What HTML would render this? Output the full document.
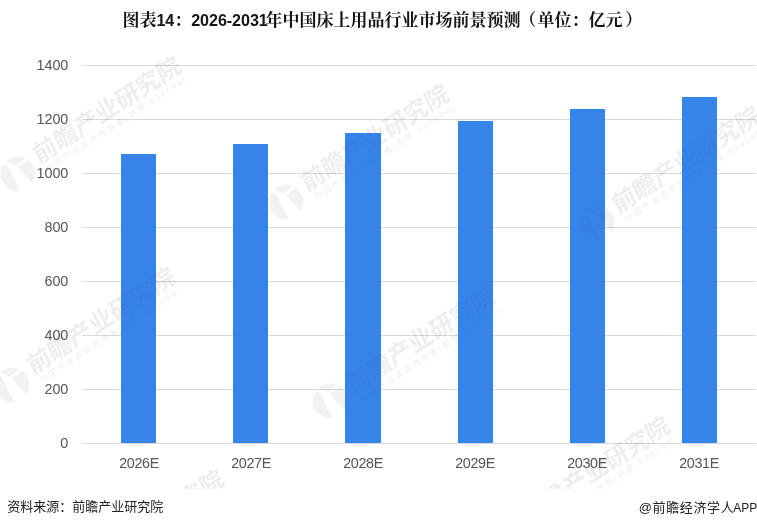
<!DOCTYPE html>
<html lang="zh-CN">
<head>
<meta charset="utf-8">
<title>图表14：2026-2031年中国床上用品行业市场前景预测（单位：亿元）</title>
<style>
html,body{margin:0;padding:0;background:#fff;}
body{width:757px;height:528px;position:relative;overflow:hidden;font-family:"Liberation Sans","Noto Sans CJK SC",sans-serif;}
.chart{position:absolute;left:0;top:0;width:757px;height:488.5px;overflow:hidden;background:#fff;}
.title{position:absolute;left:122.4px;top:8.3px;font-size:17px;line-height:24px;font-weight:700;color:#141414;white-space:nowrap;font-family:"Liberation Sans","Noto Serif CJK SC",serif;}
.title .n{font-size:16.1px;letter-spacing:-0.05px;font-weight:700;}
.title .n2{margin-right:-2.2px;}
.title .p1{position:relative;left:-1.3px;}
.title .p2{position:relative;left:2.8px;}
.grid{position:absolute;left:82px;width:674px;height:1px;background:#dadada;}
.yl{position:absolute;left:0;width:68.3px;text-align:right;font-size:14.4px;letter-spacing:-0.05px;line-height:16px;color:#555;}
.xl{position:absolute;width:112px;text-align:center;top:455.3px;font-size:14.4px;letter-spacing:-0.38px;line-height:16px;color:#555;}
.bar{position:absolute;width:35px;background:#3684e7;}
.wm{position:absolute;width:0;height:0;transform:rotate(-33deg);white-space:nowrap;}
.wa{color:rgba(40,40,80,0.046);fill:rgba(40,40,80,0.036);}
.wb{color:rgba(40,40,80,0.03);fill:rgba(40,40,80,0.025);}
.wm .logo{position:absolute;left:-20px;top:-20px;width:40px;height:40px;transform:rotate(33deg);}
.wm .t1{position:absolute;left:22px;top:-18.8px;font-size:24px;line-height:28px;font-weight:700;letter-spacing:0;transform-origin:0 100%;transform:scaleX(1.022) skewX(-6deg);}
.wm .t2{position:absolute;left:26px;top:6.7px;font-size:8.5px;line-height:10px;letter-spacing:1.9px;}
.foot{position:absolute;left:0;top:488.5px;width:757px;height:39.5px;background:#fff;font-size:13px;line-height:18px;color:#222;}
.foot .l{position:absolute;left:7.2px;top:9.8px;white-space:nowrap;}
.foot .r{position:absolute;left:638.8px;top:10px;white-space:nowrap;letter-spacing:0.62px;}
.foot .r span{letter-spacing:0;font-size:12px;margin-left:-1px;}
</style>
</head>
<body>
<svg width="0" height="0" style="position:absolute"><defs><mask id="lm" maskUnits="userSpaceOnUse" x="-20" y="-20" width="40" height="40"><circle cx="0" cy="0" r="17.2" fill="#fff"/><path d="M-20,-16 L-2.2,-8.6 L10,-17.5 L11.5,-15.5 L0.2,-6.6 L17,12.5 L4,20 L-10.2,-8 L-20,-12.6 Z" fill="#000"/></mask></defs></svg>
<div class="chart">
<div class="title">图表<span class="n">14</span>：<span class="n n2">2026-2031</span>年中国床上用品行业市场前景预测<span class="p1">（</span>单位：亿元<span class="p2">）</span></div>
<div class="grid" style="top:65px"></div><div class="yl" style="top:57px">1400</div>
<div class="grid" style="top:119px"></div><div class="yl" style="top:111px">1200</div>
<div class="grid" style="top:173px"></div><div class="yl" style="top:165px">1000</div>
<div class="grid" style="top:227px"></div><div class="yl" style="top:219px">800</div>
<div class="grid" style="top:281px"></div><div class="yl" style="top:273px">600</div>
<div class="grid" style="top:335px"></div><div class="yl" style="top:327px">400</div>
<div class="grid" style="top:389px"></div><div class="yl" style="top:381px">200</div>
<div class="grid" style="top:443px"></div><div class="yl" style="top:435px">0</div>
<div class="wm wa" style="left:18px;top:174px"><svg class="logo" style="margin:0.00px 0 0 0.00px" viewBox="-20 -20 40 40"><rect x="-20" y="-20" width="40" height="40" mask="url(#lm)"/></svg><span class="t1">前瞻产业研究院</span><span class="t2">中国产业咨询领导者(股票:839599)</span></div>
<div class="wm wa" style="left:285.5px;top:202.3px"><svg class="logo" style="margin:0.00px 0 0 0.00px" viewBox="-20 -20 40 40"><rect x="-20" y="-20" width="40" height="40" mask="url(#lm)"/></svg><span class="t1">前瞻产业研究院</span><span class="t2">中国产业咨询领导者(股票:839599)</span></div>
<div class="wm wa" style="left:597.3px;top:224.3px"><svg class="logo" style="margin:-0.81px 0 0 0.77px" viewBox="-20 -20 40 40"><rect x="-20" y="-20" width="40" height="40" mask="url(#lm)"/></svg><span class="t1">前瞻产业研究院</span><span class="t2">中国产业咨询领导者(股票:839599)</span></div>
<div class="wm wa" style="left:11.5px;top:385px"><svg class="logo" style="margin:0.00px 0 0 0.00px" viewBox="-20 -20 40 40"><rect x="-20" y="-20" width="40" height="40" mask="url(#lm)"/></svg><span class="t1">前瞻产业研究院</span><span class="t2">中国产业咨询领导者(股票:839599)</span></div>
<div class="wm wa" style="left:331.5px;top:403.5px"><svg class="logo" style="margin:-3.61px 0 0 0.32px" viewBox="-20 -20 40 40"><rect x="-20" y="-20" width="40" height="40" mask="url(#lm)"/></svg><span class="t1">前瞻产业研究院</span><span class="t2">中国产业咨询领导者(股票:839599)</span></div>
<div class="wm wa" style="left:506.8px;top:534.3px"><svg class="logo" style="margin:0.00px 0 0 0.00px" viewBox="-20 -20 40 40"><rect x="-20" y="-20" width="40" height="40" mask="url(#lm)"/></svg><span class="t1">前瞻产业研究院</span><span class="t2">中国产业咨询领导者(股票:839599)</span></div>
<div class="wm wa" style="left:60.5px;top:587px"><svg class="logo" style="margin:0.00px 0 0 0.00px" viewBox="-20 -20 40 40"><rect x="-20" y="-20" width="40" height="40" mask="url(#lm)"/></svg><span class="t1">前瞻产业研究院</span><span class="t2">中国产业咨询领导者(股票:839599)</span></div>
<div class="bar" style="left:121px;top:154px;width:35px;height:289px"></div><div class="xl" style="left:83px">2026E</div>
<div class="bar" style="left:233px;top:144px;width:35px;height:299px"></div><div class="xl" style="left:195px">2027E</div>
<div class="bar" style="left:345px;top:133px;width:36px;height:310px"></div><div class="xl" style="left:307px">2028E</div>
<div class="bar" style="left:458px;top:121px;width:35px;height:322px"></div><div class="xl" style="left:419px">2029E</div>
<div class="bar" style="left:570px;top:109px;width:35px;height:334px"></div><div class="xl" style="left:531px">2030E</div>
<div class="bar" style="left:682px;top:97px;width:35px;height:346px"></div><div class="xl" style="left:643px">2031E</div>
<div class="wm wb" style="left:18px;top:174px"><svg class="logo" style="margin:0.00px 0 0 0.00px" viewBox="-20 -20 40 40"><rect x="-20" y="-20" width="40" height="40" mask="url(#lm)"/></svg><span class="t1">前瞻产业研究院</span><span class="t2">中国产业咨询领导者(股票:839599)</span></div>
<div class="wm wb" style="left:285.5px;top:202.3px"><svg class="logo" style="margin:0.00px 0 0 0.00px" viewBox="-20 -20 40 40"><rect x="-20" y="-20" width="40" height="40" mask="url(#lm)"/></svg><span class="t1">前瞻产业研究院</span><span class="t2">中国产业咨询领导者(股票:839599)</span></div>
<div class="wm wb" style="left:597.3px;top:224.3px"><svg class="logo" style="margin:-0.81px 0 0 0.77px" viewBox="-20 -20 40 40"><rect x="-20" y="-20" width="40" height="40" mask="url(#lm)"/></svg><span class="t1">前瞻产业研究院</span><span class="t2">中国产业咨询领导者(股票:839599)</span></div>
<div class="wm wb" style="left:11.5px;top:385px"><svg class="logo" style="margin:0.00px 0 0 0.00px" viewBox="-20 -20 40 40"><rect x="-20" y="-20" width="40" height="40" mask="url(#lm)"/></svg><span class="t1">前瞻产业研究院</span><span class="t2">中国产业咨询领导者(股票:839599)</span></div>
<div class="wm wb" style="left:331.5px;top:403.5px"><svg class="logo" style="margin:-3.61px 0 0 0.32px" viewBox="-20 -20 40 40"><rect x="-20" y="-20" width="40" height="40" mask="url(#lm)"/></svg><span class="t1">前瞻产业研究院</span><span class="t2">中国产业咨询领导者(股票:839599)</span></div>
<div class="wm wb" style="left:506.8px;top:534.3px"><svg class="logo" style="margin:0.00px 0 0 0.00px" viewBox="-20 -20 40 40"><rect x="-20" y="-20" width="40" height="40" mask="url(#lm)"/></svg><span class="t1">前瞻产业研究院</span><span class="t2">中国产业咨询领导者(股票:839599)</span></div>
<div class="wm wb" style="left:60.5px;top:587px"><svg class="logo" style="margin:0.00px 0 0 0.00px" viewBox="-20 -20 40 40"><rect x="-20" y="-20" width="40" height="40" mask="url(#lm)"/></svg><span class="t1">前瞻产业研究院</span><span class="t2">中国产业咨询领导者(股票:839599)</span></div>
</div>
<div class="foot"><span class="l">资料来源：前瞻产业研究院</span><span class="r">@前瞻经济学人<span>APP</span></span></div>
</body>
</html>
